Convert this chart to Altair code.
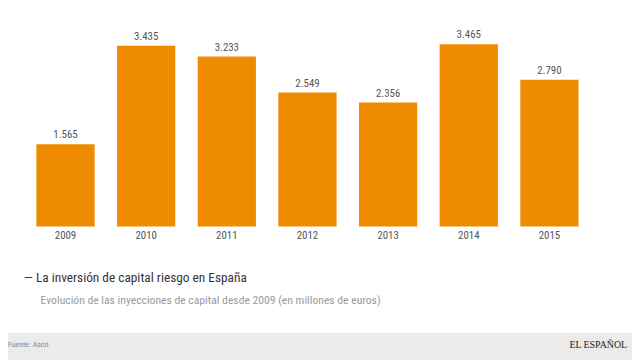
import altair as alt
import pandas as pd

years = ["2009", "2010", "2011", "2012", "2013", "2014", "2015"]
values = [1565, 3435, 3233, 2549, 2356, 3465, 2790]
labels = ["1.565", "3.435", "3.233", "2.549", "2.356", "3.465", "2.790"]

title = "— La inversión de capital riesgo en España"
subtitle = "Evolución de las inyecciones de capital desde 2009 (en millones de euros)"
source = "Fuente: Ascri"
brand = "EL ESPAÑOL"

df = pd.DataFrame({"year": years, "value": values, "label": labels})
one = pd.DataFrame({"a": [0]})

FONT = "Roboto Condensed, Liberation Sans Narrow, DejaVu Sans Condensed, Roboto"

xs = alt.Scale(domain=years, range=[17.4, 589.2], paddingInner=0.278, paddingOuter=0.139, round=False)
ys = alt.Scale(domain=[0, 4000], range=[219, 6])

base = alt.Chart(df)
bars = base.mark_bar(color="#ef8b00").encode(
    x=alt.X("year:N", scale=xs, axis=None, sort=years),
    y=alt.Y("value:Q", scale=ys, axis=None),
)
vlabels = base.mark_text(dy=-9, fontSize=11, color="#555555", font=FONT).encode(
    x=alt.X("year:N", scale=xs, axis=None, sort=years),
    y=alt.Y("value:Q", scale=ys, axis=None),
    text="label:N",
)
xlabels = base.mark_text(fontSize=11, color="#555555", font=FONT, baseline="middle").encode(
    x=alt.X("year:N", scale=xs, axis=None, sort=years),
    y=alt.value(229),
    text="year:N",
)

footer = alt.Chart(one).mark_rect(color="#ebebeb").encode(
    x=alt.value(-8), x2=alt.value(640), y=alt.value(327), y2=alt.value(360)
)
t_title = alt.Chart(one).mark_text(
    text=title, align="left", baseline="middle", fontSize=13.5, color="#333333", font=FONT
).encode(x=alt.value(16), y=alt.value(271))
t_sub = alt.Chart(one).mark_text(
    text=subtitle, align="left", baseline="middle", fontSize=11.8, color="#9a9a9a", font=FONT
).encode(x=alt.value(33), y=alt.value(294))
t_src = alt.Chart(one).mark_text(
    text=source, align="left", baseline="middle", fontSize=8, color="#888888", font=FONT
).encode(x=alt.value(0), y=alt.value(339))
t_brand = alt.Chart(one).mark_text(
    text=brand, align="right", baseline="middle", fontSize=10, color="#222222",
    font="Liberation Serif, DejaVu Serif"
).encode(x=alt.value(627), y=alt.value(339))

chart = alt.layer(footer, bars, vlabels, xlabels, t_title, t_sub, t_src, t_brand).properties(
    width=632, height=352, padding=0, autosize="none"
).configure_view(stroke=None)

chart.save("out.html", embed_options={"renderer": "svg", "actions": False})
